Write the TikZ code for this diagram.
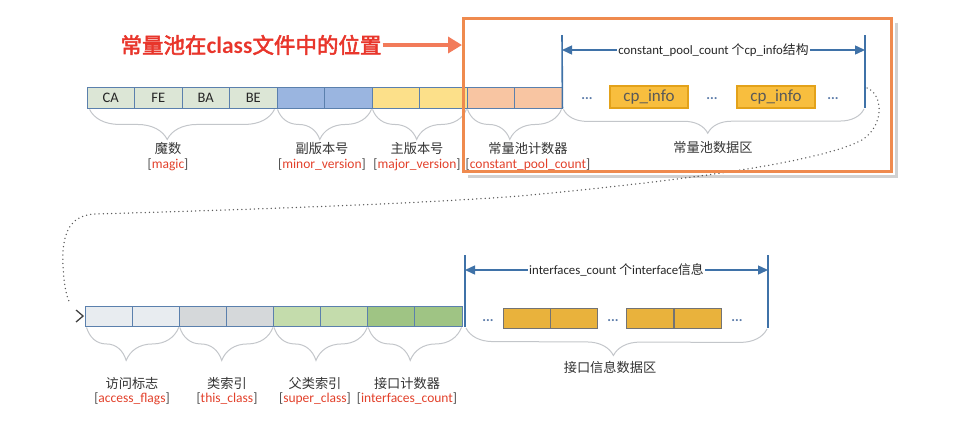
\documentclass[tikz,border=0pt]{standalone}
\usepackage{fontspec}
\setmainfont{Carlito}
\newfontfamily\cjk[AutoFakeBold=2.5]{Noto Sans CJK SC}
\usetikzlibrary{arrows.meta,decorations.pathreplacing}
\definecolor{magicc}{HTML}{DCE6D6}
\definecolor{minorc}{HTML}{9AB5E0}
\definecolor{majorc}{HTML}{FCE08A}
\definecolor{cpcc}{HTML}{F8C5A2}
\definecolor{accc}{HTML}{E8ECF0}
\definecolor{thisc}{HTML}{D5D8DA}
\definecolor{superc}{HTML}{C4DCAC}
\definecolor{ifcc}{HTML}{9FC484}
\definecolor{cellb}{HTML}{5B80AD}
\definecolor{lineblue}{HTML}{3F72A8}
\definecolor{cpif}{HTML}{F8BE3E}
\definecolor{cpib}{HTML}{E3A21A}
\definecolor{ifbox}{HTML}{E9B23C}
\definecolor{framec}{HTML}{EF8A4E}
\definecolor{titlec}{HTML}{E8352B}
\definecolor{tarrc}{HTML}{F27B5A}
\definecolor{redl}{HTML}{E2402A}
\definecolor{dotc}{HTML}{5A7AA8}
\definecolor{bracec}{HTML}{C3C6CA}
\newcommand\redlab[1]{[\textcolor{redl}{#1}]}
\begin{document}
\begin{tikzpicture}[x=1pt,y=-1pt,
  cell/.style={draw=cellb, line width=0.9pt, minimum height=21pt, inner sep=0pt, font=\fontsize{14.5}{14}\selectfont, text=black!85},
  bcell/.style={draw=cellb, line width=0.9pt, minimum width=47.125pt, minimum height=20pt, inner sep=0pt},
  cpi/.style={draw=cpib, line width=1.3pt, fill=cpif, minimum width=78pt, minimum height=22pt, inner sep=0pt, font=\fontsize{17}{16}\selectfont, text=black!65},
  ifb/.style={draw=black!55, line width=0.9pt, fill=ifbox, minimum width=47pt, minimum height=20pt, inner sep=0pt},
  dots/.style={text=dotc, font=\fontsize{14}{14}\selectfont\bfseries, inner sep=0pt},
  vline/.style={draw=lineblue, line width=1.6pt},
  darrow/.style={draw=lineblue, line width=1.4pt, {Triangle[length=10pt,width=9pt]}-{Triangle[length=10pt,width=9pt]}},
  arrlab/.style={fill=white, inner sep=1.5pt, font=\fontsize{12.8}{13}\selectfont, text=black!85},
  brc/.style={draw=bracec, line width=1pt, decorate, decoration={brace, mirror, amplitude=#1}},
  cnlab/.style={font=\cjk\fontsize{13.2}{14}\selectfont, text=black!80, inner sep=0pt},
  enlab/.style={font=\fontsize{13.5}{14}\selectfont, text=black!70, inner sep=0pt},
  dotline/.style={line width=1.5pt, dash pattern=on 0pt off 4.2pt, line cap=round, draw=black!65},
  chev/.style={draw=black!75, line width=1.3pt, -{Straight Barb[length=7pt,width=12pt,line width=1.3pt]}},
  tarrow/.style={draw=tarrc, line width=3.5pt, -{Triangle[length=14pt,width=16pt]}},
  framest/.style={draw=framec, line width=3pt, minimum width=428pt, minimum height=153pt, inner sep=0pt}
]
\useasboundingbox (0,0) rectangle (957,440);

% ---------- top bar ----------
\foreach \i/\t/\c in {0/CA/magicc,1/FE/magicc,2/BA/magicc,3/BE/magicc,4/{}/minorc,5/{}/minorc,6/{}/majorc,7/{}/majorc,8/{}/cpcc,9/{}/cpcc}
  \node[cell, fill=\c, minimum width=47.5pt] (t\i) at ({87+47.5*\i+23.75},97.5) {\t};

% constant pool data area
\coordinate (cpLt) at (562,35);
\coordinate (cpRt) at (865,35);
\coordinate (cpRb) at (865,108);
\coordinate (cpAL) at (562,50);
\coordinate (cpAR) at (865,50);
\draw[vline] (cpLt) -- (t9.south east);
\draw[vline] (cpRt) -- (cpRb);
\draw[darrow] (cpAL) -- (cpAR) node[midway, arrlab] (cplab) {constant\_pool\_count {\cjk 个}cp\_info{\cjk 结构}};
\node[dots] (d1) at (587,99) {...};
\node[cpi] (cp1) at (649,97) {cp\_info};
\node[dots] (d2) at (712,99) {...};
\node[cpi] (cp2) at (776,97) {cp\_info};
\node[dots] (d3) at (833,99) {...};

% top braces
\draw[brc=30, decoration={aspect=0.42}] ([xshift=3pt,yshift=-1pt]t0.south west) -- ([xshift=-3pt,yshift=-1pt]t3.south east);
\draw[brc=30, decoration={aspect=0.45}] ([xshift=1pt,yshift=-1pt]t4.south west) -- ([xshift=-1pt,yshift=-1pt]t5.south east);
\draw[brc=30, decoration={aspect=0.47}] ([xshift=1pt,yshift=-1pt]t6.south west) -- ([xshift=-1pt,yshift=-1pt]t7.south east);
\draw[brc=30, decoration={aspect=0.45}] ([xshift=1pt,yshift=-1pt]t8.south west) -- ([xshift=-1pt,yshift=-1pt]t9.south east);
\draw[brc=24, decoration={aspect=0.48}] ([xshift=1pt,yshift=-1pt]t9.south east) -- ([xshift=-1pt,yshift=-1pt]cpRb);

% top labels
\node[cnlab] (l1) at (168,148) {魔数};
\node[enlab] (e1) at (168,165) {\redlab{magic}};
\node[cnlab] (l2) at (322,148) {副版本号};
\node[enlab] (e2) at (322,165) {\redlab{minor\_version}};
\node[cnlab] (l3) at (417,148) {主版本号};
\node[enlab] (e3) at (417,165) {\redlab{major\_version}};
\node[cnlab] (l4) at (528,148) {常量池计数器};
\node[enlab] (e4) at (528,165) {\redlab{constant\_pool\_count}};
\node[cnlab] (l5) at (713,147) {常量池数据区};

% ---------- bottom bar ----------
\foreach \i/\c in {0/accc,1/accc,2/thisc,3/thisc,4/superc,5/superc,6/ifcc,7/ifcc}
  \node[bcell, fill=\c] (b\i) at ({85+47.125*\i+23.5625},316) {};

\coordinate (ifLt) at (465,255);
\coordinate (ifLb) at (465,327);
\coordinate (ifRt) at (768,255);
\coordinate (ifRb) at (768,328);
\coordinate (ifAL) at (465,270);
\coordinate (ifAR) at (768,270);
\draw[vline] (ifLt) -- (ifLb);
\draw[vline] (ifRt) -- (ifRb);
\draw[darrow] (ifAL) -- (ifAR) node[midway, arrlab] (iflab) {interfaces\_count {\cjk 个}interface{\cjk 信息}};
\node[dots] (d4) at (488,321) {...};
\node[ifb] (i1) at (526.5,318) {};
\node[ifb] (i2) at (573.5,318) {};
\node[dots] (d5) at (613,321) {...};
\node[ifb] (i3) at (650,318) {};
\node[ifb] (i4) at (697.5,318) {};
\node[dots] (d6) at (737,321) {...};

% bottom braces
\draw[brc=33, decoration={aspect=0.43}] ([xshift=2pt,yshift=-1pt]b0.south west) -- ([xshift=-1pt,yshift=-1pt]b1.south east);
\draw[brc=33, decoration={aspect=0.45}] ([xshift=1pt,yshift=-1pt]b2.south west) -- ([xshift=-1pt,yshift=-1pt]b3.south east);
\draw[brc=33, decoration={aspect=0.45}] ([xshift=1pt,yshift=-1pt]b4.south west) -- ([xshift=-1pt,yshift=-1pt]b5.south east);
\draw[brc=33, decoration={aspect=0.45}] ([xshift=1pt,yshift=-1pt]b6.south west) -- ([xshift=-1pt,yshift=-1pt]b7.south east);
\draw[brc=27, decoration={aspect=0.49}] ([xshift=1pt,yshift=-1pt]ifLb) -- ([xshift=-1pt,yshift=-1pt]ifRb);

% bottom labels
\node[cnlab] (l6) at (132,383) {访问标志};
\node[enlab] (e6) at (132,399) {\redlab{access\_flags}};
\node[cnlab] (l7) at (227,383) {类索引};
\node[enlab] (e7) at (227,399) {\redlab{this\_class}};
\node[cnlab] (l8) at (315,383) {父类索引};
\node[enlab] (e8) at (315,399) {\redlab{super\_class}};
\node[cnlab] (l9) at (407,383) {接口计数器};
\node[enlab] (e9) at (407,399) {\redlab{interfaces\_count}};
\node[cnlab] (l10) at (610,367) {接口信息数据区};

% ---------- dotted connector ----------
\coordinate (dstart) at (867,88);
\coordinate (dend) at (70,303);
\draw[dotline] (dstart) .. controls (883,94) and (885,125) .. (862,140)
  .. controls (820,162) and (690,180) .. (520,196)
  .. controls (400,205) and (200,211) .. (95,214)
  .. controls (66,215) and (62,240) .. (63,265)
  .. controls (64,285) and (66,296) .. (dend);
\draw[chev] ([xshift=-1.5pt]b0.west) -- ([xshift=-0.5pt]b0.west);

% ---------- highlight frame & title ----------
\node[framest] (frame) at (677.5,94.5) {};
\draw[black, opacity=0.18, line width=3pt] ([shift={(3.5,6)}]frame.north east) -- ([shift={(3.5,3.5)}]frame.south east) -- ([shift={(6,3.5)}]frame.south west);
\node[framest] at (frame.center) {};
\node[text=titlec, inner sep=1pt, font=\fontsize{21.5}{23}\selectfont] (title) at (251,45) {{\cjk\bfseries 常量池在}{\fontsize{23.5}{23}\selectfont\bfseries class}{\cjk\bfseries 文件中的位置}};
\draw[tarrow] (title.east) -- (frame.west |- title.east);
\end{tikzpicture}
\end{document}
